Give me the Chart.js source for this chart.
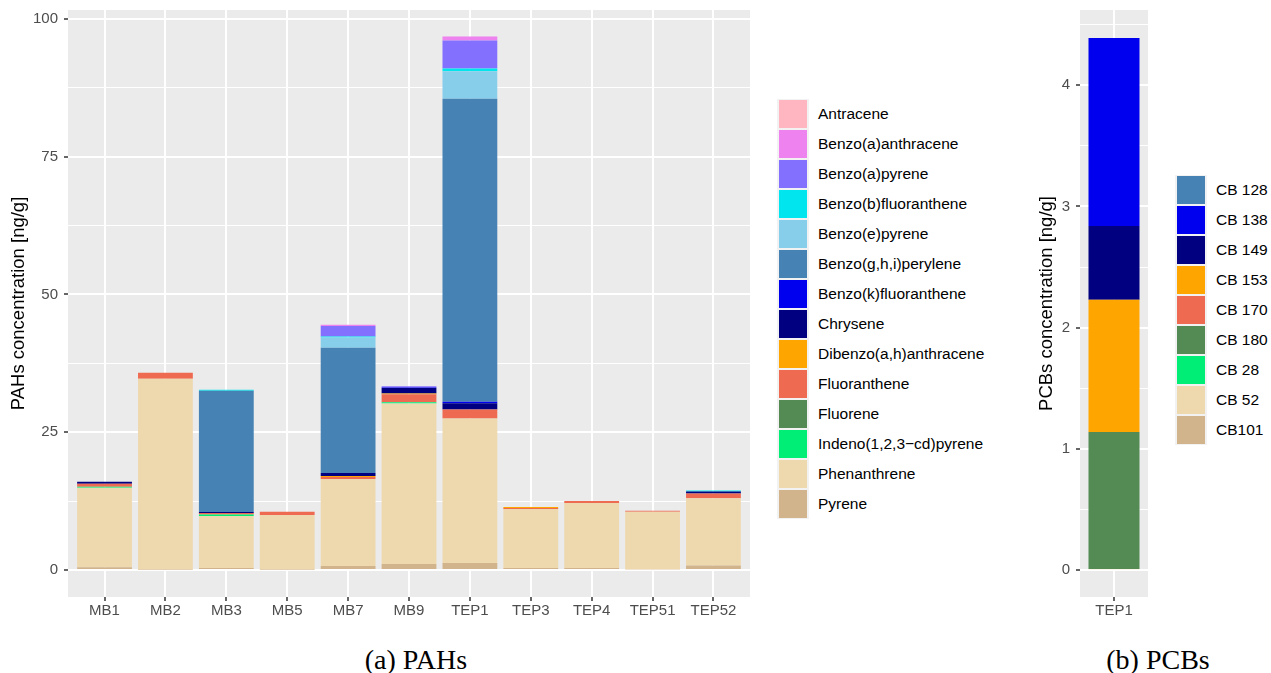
<!DOCTYPE html>
<html>
<head>
<meta charset="utf-8">
<title>PAHs and PCBs</title>
<script src="https://cdn.jsdelivr.net/npm/chart.js@4.4.1/dist/chart.umd.min.js"></script>
<style>
  body { margin: 0; background: #fff; width: 1271px; height: 673px; position: relative; overflow: hidden;
         font-family: 'Liberation Sans', Arial, sans-serif; }
  canvas { position: absolute; top: 0; }
  #pahChart { left: 0; }
  #pcbChart { left: 1030px; }
  .legend { position: absolute; }
  .legend .row { display: flex; align-items: center; height: 30px; }
  .legend .key { width: 32px; height: 30px; background: #f2f2f2; box-sizing: border-box; padding: 1px 2px; }
  .legend .key div { width: 28px; height: 28px; }
  .legend .label { margin-left: 9px; font-size: 15.5px; color: #000; white-space: nowrap; }
  .caption { position: absolute; top: 644px; transform: translateX(-50%); white-space: nowrap;
             font-family: 'Liberation Serif', 'Times New Roman', serif; font-size: 28px; color: #000; }
</style>
</head>
<body>
<canvas id="pahChart" width="760" height="630"></canvas>
<canvas id="pcbChart" width="120" height="630"></canvas>
<div class="legend" id="pahLegend" style="left:777px; top:99px"></div>
<div class="legend" id="pcbLegend" style="left:1175px; top:175px"></div>
<div class="caption" style="left:416px">(a) PAHs</div>
<div class="caption" style="left:1158px">(b) PCBs</div>

<script>
// ---- PAHs (ng/g) per site ----
var sites = ['MB1', 'MB2', 'MB3', 'MB5', 'MB7', 'MB9', 'TEP1', 'TEP3', 'TEP4', 'TEP51', 'TEP52'];
var pahTicks = [0, 25, 50, 75, 100];

var antracene         = [0, 0, 0, 0, 0, 0, 0, 0, 0, 0, 0];
var benzoAAnthracene  = [0, 0, 0, 0, 0.24, 0, 0.73, 0, 0, 0, 0];
var benzoAPyrene      = [0, 0, 0, 0, 1.89, 0.24, 5.1, 0, 0, 0, 0];
var benzoBFluoranth   = [0, 0, 0.18, 0, 0.18, 0, 0.5, 0, 0, 0, 0.18];
var benzoEPyrene      = [0, 0, 0, 0, 1.87, 0, 4.97, 0, 0, 0, 0];
var benzoGhiPerylene  = [0, 0, 22.0, 0, 22.7, 0, 55.0, 0, 0, 0, 0];
var benzoKFluoranth   = [0, 0, 0, 0, 0, 0.1, 0.25, 0, 0, 0, 0];
var chrysene          = [0.36, 0, 0.18, 0, 0.55, 1.0, 1.15, 0, 0, 0, 0.36];
var dibenzoAnthracene = [0, 0, 0, 0, 0.18, 0.12, 0, 0.18, 0, 0, 0];
var fluoranthene      = [0.55, 1.09, 0.3, 0.55, 0.36, 1.45, 1.64, 0.18, 0.36, 0.18, 0.9];
var fluorene          = [0, 0, 0, 0, 0, 0, 0, 0, 0, 0, 0];
var indenoPyrene      = [0.2, 0, 0.24, 0, 0, 0.24, 0, 0, 0, 0, 0];
var phenanthrene      = [14.4, 34.6, 9.45, 9.9, 15.8, 29.1, 26.2, 10.7, 11.8, 10.4, 12.2];
var pyrene            = [0.5, 0.1, 0.36, 0.1, 0.73, 1.09, 1.27, 0.36, 0.36, 0.15, 0.8];

var pahNames = ['Antracene', 'Benzo(a)anthracene', 'Benzo(a)pyrene', 'Benzo(b)fluoranthene',
  'Benzo(e)pyrene', 'Benzo(g,h,i)perylene', 'Benzo(k)fluoranthene', 'Chrysene',
  'Dibenzo(a,h)anthracene', 'Fluoranthene', 'Fluorene', 'Indeno(1,2,3\u2212cd)pyrene',
  'Phenanthrene', 'Pyrene'];
var pahValues = [antracene, benzoAAnthracene, benzoAPyrene, benzoBFluoranth, benzoEPyrene,
  benzoGhiPerylene, benzoKFluoranth, chrysene, dibenzoAnthracene, fluoranthene, fluorene,
  indenoPyrene, phenanthrene, pyrene];
var pahColors = ['#FFB6C1', '#EE82EE', '#8470FF', '#00E5EE', '#87CEEB', '#4682B4', '#0000EE',
  '#000080', '#FFA500', '#EE6A50', '#548B54', '#00EE76', '#EED8AE', '#D2B48C'];

// ---- PCBs (ng/g), only TEP1 ----
var pcbSites = ['TEP1'];
var pcbTicks = [0, 1, 2, 3, 4];

var cb128 = [0];
var cb138 = [1.55];
var cb149 = [0.61];
var cb153 = [1.09];
var cb170 = [0];
var cb180 = [1.13];
var cb28  = [0];
var cb52  = [0.01];
var cb101 = [0];

var pcbNames = ['CB 128', 'CB 138', 'CB 149', 'CB 153', 'CB 170', 'CB 180', 'CB 28', 'CB 52', 'CB101'];
var pcbValues = [cb128, cb138, cb149, cb153, cb170, cb180, cb28, cb52, cb101];
var pcbColors = ['#4682B4', '#0000EE', '#000080', '#FFA500', '#EE6A50', '#548B54', '#00EE76', '#EED8AE', '#D2B48C'];

Chart.defaults.font.family = "'Liberation Sans', Arial, sans-serif";
Chart.defaults.color = '#4D4D4D';

// grey panel behind the grid
var panelBackground = {
  id: 'panelBackground',
  beforeDraw: function(chart) {
    var a = chart.chartArea;
    var ctx = chart.ctx;
    ctx.save();
    ctx.fillStyle = '#EBEBEB';
    ctx.fillRect(a.left, a.top, a.right - a.left, a.bottom - a.top);
    ctx.restore();
  }
};

// first level of the legend sits on top of the stack, so build datasets bottom-up
function makeDatasets(names, values, colors, barPct) {
  var sets = [];
  for (var k = names.length - 1; k >= 0; k--) {
    sets.push({
      label: names[k],
      data: values[k].map(function(v, i) { return { x: i, y: v }; }),
      backgroundColor: colors[k],
      borderWidth: 0,
      categoryPercentage: barPct,
      barPercentage: 1
    });
  }
  return sets;
}

// major ticks plus the half steps between them
function tickList(major, min, max) {
  var half = (major[1] - major[0]) / 2;
  var list = [];
  for (var v = major[0] - half; v <= max; v += half) {
    if (v >= min) list.push({ value: v });
  }
  return list;
}

function isMajor(major, ctx) {
  return ctx.tick !== undefined && major.indexOf(ctx.tick.value) >= 0;
}

// keep the panel edges where the layout puts them, labels may hang over
function noEdgePadding(axis) {
  axis.paddingTop = 0;
  axis.paddingBottom = 0;
  axis.paddingLeft = 0;
  axis.paddingRight = 0;
}

function makeOptions(labels, major, yMin, yMax, yTitle, axisWidth, titlePad, rightPad) {
  return {
    responsive: false,
    animation: false,
    layout: { padding: { top: 10, right: rightPad, bottom: 0, left: 0 } },
    plugins: { legend: { display: false }, tooltip: { enabled: false } },
    scales: {
      x: {
        type: 'linear',
        min: -0.6,
        max: labels.length - 0.4,
        offset: false,
        stacked: true,
        afterBuildTicks: function(axis) {
          axis.ticks = labels.map(function(l, i) { return { value: i }; });
        },
        afterFit: function(axis) {
          axis.height = 33;
          noEdgePadding(axis);
        },
        ticks: {
          callback: function(v) { return labels[v]; },
          autoSkip: false, maxRotation: 0, padding: 1,
          color: '#4D4D4D', font: { size: 15 }
        },
        grid: {
          offset: false, color: '#FFFFFF', lineWidth: 2,
          tickColor: '#333333', tickLength: 4, tickWidth: 1.5
        },
        border: { display: false }
      },
      y: {
        min: yMin,
        max: yMax,
        stacked: true,
        afterBuildTicks: function(axis) { axis.ticks = tickList(major, yMin, yMax); },
        afterFit: function(axis) {
          axis.width = axisWidth;
          noEdgePadding(axis);
        },
        ticks: {
          callback: function(v) { return major.indexOf(v) >= 0 ? String(v) : ''; },
          padding: 6, color: '#4D4D4D', font: { size: 15 }
        },
        grid: {
          color: '#FFFFFF',
          lineWidth: function(ctx) { return isMajor(major, ctx) ? 2 : 1; },
          tickColor: function(ctx) { return isMajor(major, ctx) ? '#333333' : 'rgba(0,0,0,0)'; },
          tickLength: 4,
          tickWidth: 1.5
        },
        border: { display: false },
        title: {
          display: true, text: yTitle, color: '#000000',
          font: { size: 18.5 }, padding: { top: titlePad, bottom: 0 }
        }
      }
    }
  };
}

var pahChart = new Chart(document.getElementById('pahChart'), {
  type: 'bar',
  data: { datasets: makeDatasets(pahNames, pahValues, pahColors, 0.9) },
  options: makeOptions(sites, pahTicks, -4.9, 101.6, 'PAHs concentration [ng/g]', 68, 8, 10),
  plugins: [panelBackground]
});

// one bar in a panel 1.2 units wide: 0.9 of a unit is 0.75 of the panel
var pcbChart = new Chart(document.getElementById('pcbChart'), {
  type: 'bar',
  data: { datasets: makeDatasets(pcbNames, pcbValues, pcbColors, 0.75) },
  options: makeOptions(pcbSites, pcbTicks, -0.22, 4.62, 'PCBs concentration [ng/g]', 50, 6, 2),
  plugins: [panelBackground]
});

function buildLegend(id, names, colors) {
  var box = document.getElementById(id);
  names.forEach(function(name, i) {
    var row = document.createElement('div');
    row.className = 'row';
    var key = document.createElement('div');
    key.className = 'key';
    var swatch = document.createElement('div');
    swatch.style.background = colors[i];
    key.appendChild(swatch);
    var label = document.createElement('span');
    label.className = 'label';
    label.textContent = name;
    row.appendChild(key);
    row.appendChild(label);
    box.appendChild(row);
  });
}

buildLegend('pahLegend', pahNames, pahColors);
buildLegend('pcbLegend', pcbNames, pcbColors);
</script>
</body>
</html>
